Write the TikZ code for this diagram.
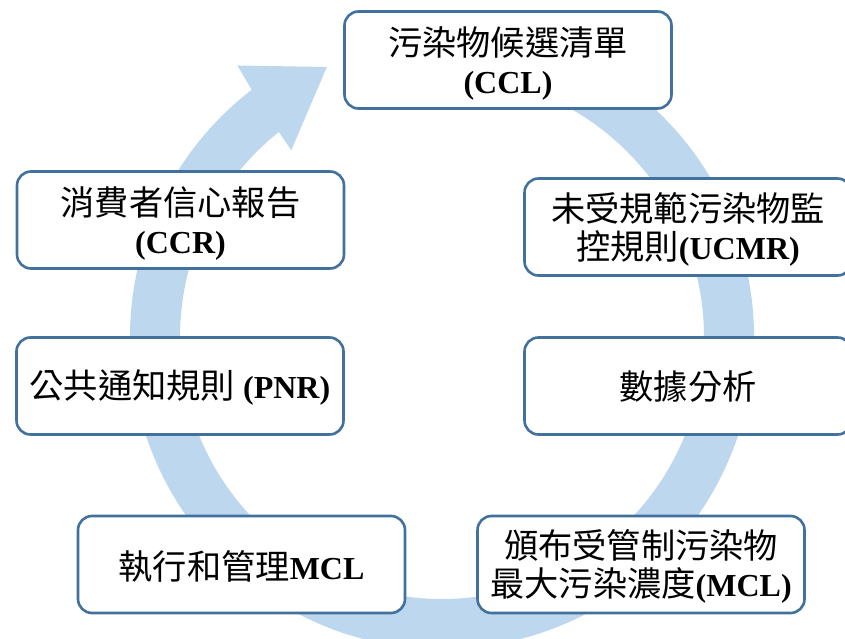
\documentclass[tikz,border=0pt]{standalone}
\usepackage{fontspec}
\setmainfont{Liberation Serif}
\newfontfamily\cjk[Scale=1.07]{Noto Sans CJK TC}
\definecolor{ringblue}{HTML}{BDD7EE}
\definecolor{boxline}{HTML}{41719C}
\begin{document}
\begin{tikzpicture}[x=1pt,y=1pt,
  stepbox/.style={draw=boxline, line width=2.6pt, fill=white, rounded corners=14pt,
    minimum width=327pt, minimum height=97pt, inner sep=0pt, align=center,
    font=\fontsize{32}{38}\selectfont}]
\useasboundingbox (0,0) rectangle (845,-639);
% ring with arrowhead
\begin{scope}[shift={(442,-337)}]
\fill[ringblue] (100:312) arc[start angle=100, end angle=-232.4, radius=312]
  -- (-233:340) -- (-246.9:293.5) -- (-231.1:240) -- (-231.5:262)
  arc[start angle=-231.5, end angle=100, radius=262] -- cycle;
\end{scope}
% boxes
\node[stepbox] (ccl) at (508,-60) {};
\node[stepbox] (ucmr) at (688,-227) {};
\node[stepbox] (data) at (688,-386) {};
\node[stepbox] (mcl) at (641,-564.5) {};
\node[stepbox] (exec) at (241.5,-564.5) {};
\node[stepbox] (pnr) at (180,-386) {};
\node[stepbox] (ccr) at (180.5,-220) {};
% texts
\begin{scope}[every node/.style={align=center, inner sep=0pt, font=\fontsize{32}{38}\selectfont}]
\node (tccl) at ([yshift=-4pt]ccl.center) {{\cjk 污染物候選清單}\\\textbf{(CCL)}};
\node (tucmr) at ([yshift=-2pt]ucmr.center) {{\cjk 未受規範污染物監}\\{\cjk 控規則}\textbf{(UCMR)}};
\node (tdata) at ([yshift=-1pt]data.center) {{\cjk 數據分析}};
\node (tmcl) at ([yshift=-2pt]mcl.center) {{\cjk 頒布受管制污染物}\\{\cjk 最大污染濃度}\textbf{(MCL)}};
\node (texec) at ([yshift=-2pt]exec.center) {{\cjk 執行和管理}\textbf{MCL}};
\node (tpnr) at ([yshift=-2pt]pnr.center) {{\cjk 公共通知規則} \textbf{(PNR)}};
\node (tccr) at ([yshift=-4pt]ccr.center) {{\cjk 消費者信心報告}\\\textbf{(CCR)}};
\end{scope}
\end{tikzpicture}
\end{document}
